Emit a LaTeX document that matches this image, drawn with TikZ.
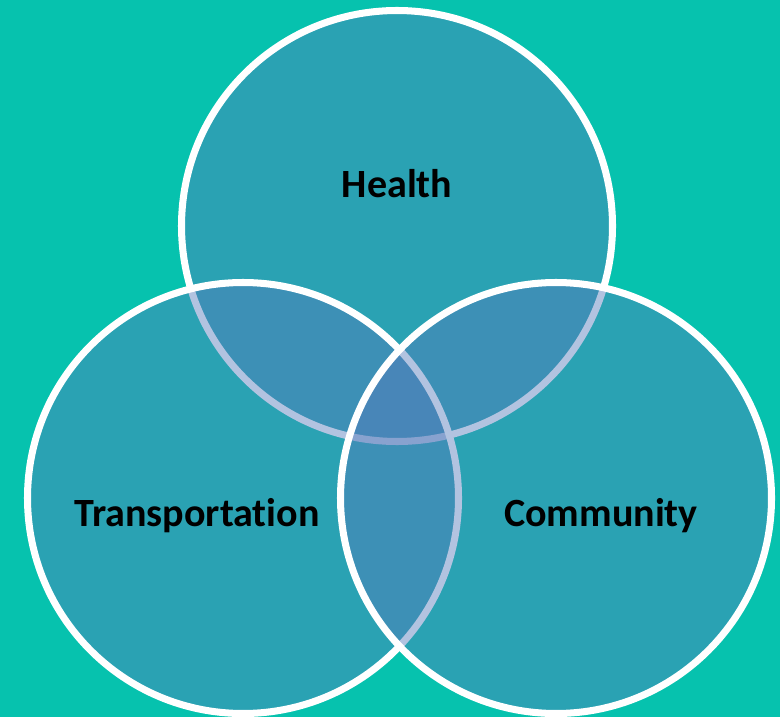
\documentclass[tikz,border=0pt]{standalone}
\usepackage{fontspec}
\setmainfont[Ligatures=NoCommon]{Carlito}
\definecolor{bgteal}{RGB}{6,194,174}
\definecolor{ringblue}{RGB}{86,124,187}
\tikzset{
  ring/.style={circle,draw=white,line width=4pt,fill=ringblue,fill opacity=0.45,
    minimum size=8.62cm,inner sep=0pt},
  lbl/.style={text=black,text opacity=1,font=\bfseries\fontsize{22.8}{27}\selectfont}
}
\begin{document}
\begin{tikzpicture}
    \fill[bgteal] (0,0) rectangle (15.6,14.34);
    \useasboundingbox (0,0) rectangle (15.6,14.34);
    \node[ring] (health) at (7.94,9.82) {};
    \node[ring] (transport) at (4.86,4.38) {};
    \node[ring] (community) at (11.12,4.38) {};
    \node[lbl] (hl) at (7.94,10.66) {Health};
    \node[lbl] (tl) at (3.94,4.02) {Transportation};
    \node[lbl] (cl) at (12.02,4.02) {Community};
\end{tikzpicture}
\end{document}
